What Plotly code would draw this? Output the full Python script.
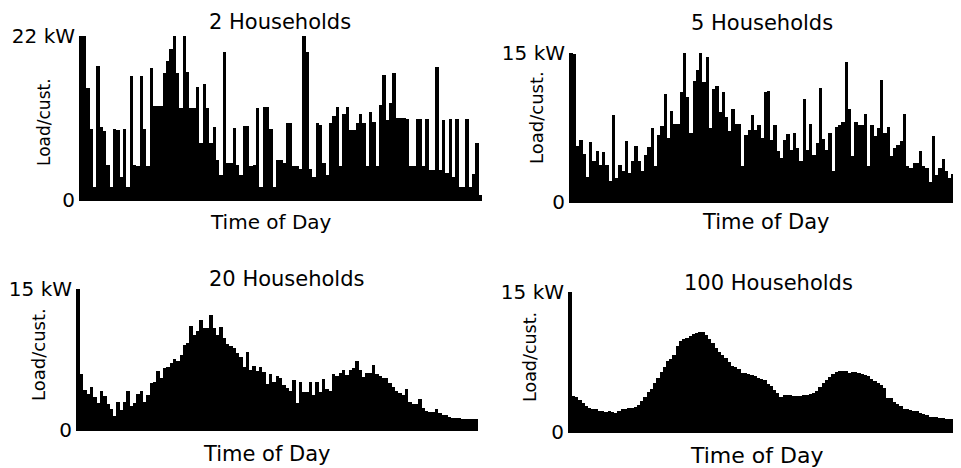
import plotly.graph_objects as go

# ---- data (kW per customer, 120 time slots over the day) ----
slots = list(range(120))

load_2 = [22, 15, 9.5, 1.7, 18, 9.8, 9.3, 4.7, 1.7, 9.5,
          9.4, 3.1, 9.5, 1.7, 16.7, 4.7, 4.5, 16.7, 9.5, 4.5,
          17.7, 12.6, 12.6, 12.6, 17.1, 18.6, 20.3, 22, 17.1, 12.4,
          22, 17.2, 12.4, 12.4, 15.2, 7.6, 15.6, 12.4, 7.6, 9.8,
          5.3, 3.4, 19.8, 4.9, 4.9, 9.7, 4.7, 3.4, 9.9, 9.9,
          4.5, 4.7, 12.4, 1.7, 12.5, 12.5, 9.5, 1.7, 5.4, 5.4,
          4.9, 10.3, 10.3, 4.5, 4.5, 4.2, 22, 19.9, 4.2, 3.1,
          10.3, 10.1, 4.9, 3.4, 10.3, 11.3, 12.5, 4.5, 11.6, 12.5,
          9.4, 9.4, 10.3, 11.6, 10.3, 4.5, 11.8, 10.5, 4.5, 12.7,
          16.8, 10.7, 13, 17, 11, 11, 11, 10.9, 4.5, 4.5,
          10.9, 10.9, 4.5, 10.8, 4.0, 4.0, 17.8, 4.0, 10.7, 3.6,
          10.8, 3.1, 10.8, 1.8, 1.8, 10.9, 1.8, 3.5, 7.6, 0.7]

load_5 = [14.9, 5.6, 6.2, 4.8, 2.5, 6.0, 4.1, 5.1, 3.7, 5.0,
          3.7, 2.1, 8.8, 2.4, 3.7, 3.1, 6.1, 2.9, 4.1, 5.6,
          4.1, 3.1, 4.7, 5.5, 7.5, 3.6, 6.7, 7.7, 10.9, 6.4,
          9.2, 7.9, 7.9, 11.1, 15.1, 10.6, 6.9, 12.2, 13.3, 15.3,
          12.1, 14.6, 7.4, 11.4, 11.7, 9.1, 11.1, 8.6, 7.1, 9.4,
          7.9, 7.9, 3.6, 6.7, 7.2, 8.8, 7.2, 7.8, 6.4, 11.1,
          11.2, 6.2, 7.8, 5.1, 4.4, 6.2, 6.8, 5.2, 6.9, 5.4,
          4.1, 10.4, 5.2, 7.9, 4.7, 5.9, 11.5, 6.3, 5.2, 6.9,
          3.1, 7.6, 7.8, 8.1, 14.1, 9.4, 4.6, 8.1, 7.8, 7.8,
          8.9, 3.6, 7.8, 6.6, 7.4, 12.3, 6.9, 7.6, 4.6, 5.4,
          5.7, 6.1, 8.9, 3.6, 3.4, 3.9, 3.9, 5.1, 3.6, 3.4,
          2.0, 6.6, 2.7, 3.4, 4.3, 3.1, 2.4, 2.8, 3.8, 2.5]

load_20 = [6.0, 4.3, 3.8, 4.6, 3.5, 2.9, 4.1, 3.6, 2.8, 2.2,
           1.5, 3.0, 2.1, 3.0, 4.1, 2.6, 2.9, 3.8, 4.1, 3.0,
           3.7, 5.0, 5.1, 6.3, 5.5, 6.6, 6.7, 7.1, 7.6, 7.3,
           8.0, 9.0, 9.3, 11.1, 10.1, 10.5, 11.7, 10.8, 10.9, 12.2,
           10.8, 10.1, 11.0, 9.8, 9.2, 8.9, 8.7, 8.2, 7.8, 6.7,
           8.3, 6.4, 6.8, 6.3, 6.7, 6.2, 4.9, 6.0, 5.1, 5.7,
           5.5, 4.8, 4.5, 4.1, 5.3, 2.9, 5.1, 4.0, 4.0, 5.1,
           3.7, 5.1, 4.0, 5.4, 4.4, 4.2, 6.0, 5.7, 6.1, 6.4,
           5.8, 6.4, 6.6, 7.3, 6.4, 5.6, 6.1, 6.1, 6.9, 6.0,
           5.7, 5.5, 5.5, 5.0, 4.6, 4.1, 3.9, 3.7, 4.4, 3.0,
           2.8, 2.8, 3.3, 2.3, 2.0, 1.9, 1.9, 2.2, 1.8, 1.6,
           1.6, 1.4, 1.3, 1.3, 1.3, 1.2, 1.2, 1.2, 1.2, 1.2]

load_100 = [3.9, 3.7, 3.4, 3.1, 2.8, 2.6, 2.5, 2.5, 2.2, 2.2,
            2.1, 2.2, 2.1, 2.0, 2.2, 2.5, 2.5, 2.6, 2.6, 2.7,
            2.9, 3.3, 3.7, 4.3, 4.6, 5.2, 5.8, 6.4, 7.0, 7.6,
            7.8, 8.3, 9.2, 9.8, 10.0, 10.1, 10.3, 10.5, 10.6, 10.7,
            10.7, 10.4, 10.0, 9.5, 9.0, 8.6, 8.3, 7.9, 7.5, 7.1,
            7.0, 6.8, 6.3, 6.3, 6.2, 6.1, 6.0, 5.8, 5.7, 5.6,
            5.1, 4.9, 4.5, 4.2, 3.8, 4.0, 4.0, 4.0, 3.9, 3.9,
            3.9, 4.0, 4.0, 4.1, 4.2, 4.4, 4.8, 5.3, 5.6, 5.9,
            6.2, 6.4, 6.5, 6.5, 6.5, 6.3, 6.4, 6.4, 6.3, 6.2,
            6.1, 6.0, 5.7, 5.5, 5.3, 5.0, 4.7, 3.6, 3.6, 3.2,
            3.0, 2.8, 2.5, 2.5, 2.4, 2.3, 2.2, 2.0, 1.9, 1.8,
            1.6, 1.6, 1.6, 1.5, 1.5, 1.4, 1.4, 1.4, 1.3, 1.3]

titles = ["2 Households", "5 Households", "20 Households", "100 Households"]
y_max = [22, 15, 15, 15]
tick_text = [["0", "22 kW"], ["0", "15 kW"], ["0", "15 kW"], ["0", "15 kW"]]
y_title = "Load/cust."
x_title = "Time of Day"
series = [load_2, load_5, load_20, load_100]

# ---- layout geometry (page pixels of the 961x468 window) ----
PAGE_OFF = 8            # default body margin of the html page
W, H = 961 - PAGE_OFF, 468 - PAGE_OFF
FONT = "DejaVu Sans"
# plot boxes: left, right, top, bottom (page pixels)
boxes = [(83, 482, 36, 200), (573, 961, 53, 202), (80, 478, 289, 430), (572, 961, 292, 432)]
title_pos = [(280, 22, 21), (762, 23, 21), (286, 279, 21), (768, 283, 21)]
ytitle_pos = [(44, 122, 17), (537, 118, 18), (38, 354, 18), (530, 357, 17.5)]
xtitle_pos = [(271, 222, 20), (765, 222, 21), (266, 454, 21), (756, 455, 22)]


def px(x, y):
    return (x - PAGE_OFF) / W, 1 - (y - PAGE_OFF) / H


fig = go.Figure()
layout = dict(width=W, height=H, margin=dict(l=0, r=0, t=0, b=0, pad=0, autoexpand=False),
              paper_bgcolor="white", plot_bgcolor="white", showlegend=False,
              bargap=0, font=dict(family=FONT, color="black"))
annotations = []

for k in range(4):
    n = "" if k == 0 else str(k + 1)
    fig.add_trace(go.Bar(x=slots, y=series[k], marker=dict(color="black", line=dict(width=0)),
                         xaxis="x" + n, yaxis="y" + n, hoverinfo="skip"))
    l, r, t, b = boxes[k]
    x0, _ = px(l, PAGE_OFF)
    x1, _ = px(r, PAGE_OFF)
    _, y1 = px(PAGE_OFF, t)
    _, y0 = px(PAGE_OFF, b)
    layout["xaxis" + n] = dict(domain=[max(0, x0), min(1, x1)], range=[-0.5, 119.5], anchor="y" + n,
                               showticklabels=False, ticks="", showgrid=False, zeroline=False,
                               automargin=False,
                               showline=True, linecolor="black", linewidth=1)
    layout["yaxis" + n] = dict(domain=[y0, y1], range=[0, y_max[k]], anchor="x" + n,
                               tickvals=[0, y_max[k]], ticktext=tick_text[k], ticks="",
                               tickfont=dict(family=FONT, size=20, color="black"),
                               showgrid=False, zeroline=False, automargin=False,
                               showline=True, linecolor="black", linewidth=4)
    tx, ty = px(title_pos[k][0], title_pos[k][1])
    annotations.append(dict(text=titles[k], x=tx, y=ty, xref="paper", yref="paper",
                            showarrow=False, xanchor="center", yanchor="middle", borderpad=0,
                            font=dict(family=FONT, size=title_pos[k][2], color="black")))
    yx, yy = px(ytitle_pos[k][0], ytitle_pos[k][1])
    annotations.append(dict(text=y_title, x=yx, y=yy, xref="paper", yref="paper",
                            showarrow=False, textangle=-90, xanchor="center", yanchor="middle",
                            borderpad=0,
                            font=dict(family=FONT, size=ytitle_pos[k][2], color="black")))
    xx, xy = px(xtitle_pos[k][0], xtitle_pos[k][1])
    annotations.append(dict(text=x_title, x=xx, y=xy, xref="paper", yref="paper",
                            showarrow=False, xanchor="center", yanchor="middle", borderpad=0,
                            font=dict(family=FONT, size=xtitle_pos[k][2], color="black")))

layout["annotations"] = annotations
fig.update_layout(**layout)
fig.write_html("out.html")
